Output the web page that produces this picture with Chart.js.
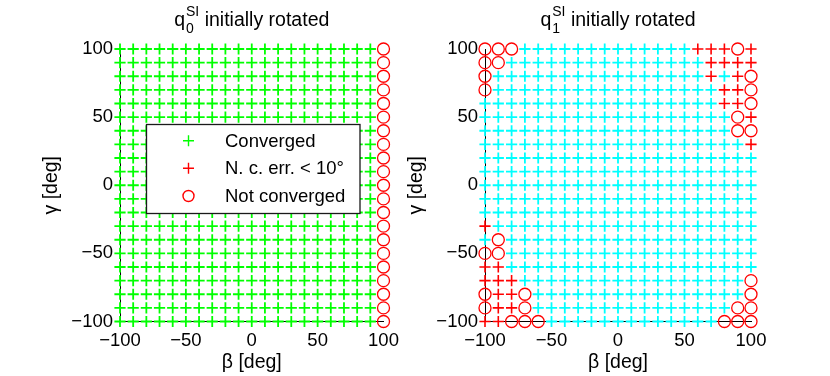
<!DOCTYPE html>
<html>
<head>
<meta charset="utf-8">
<script src="https://cdn.jsdelivr.net/npm/chart.js@4/dist/chart.umd.min.js"></script>
<style>
  html, body { margin: 0; padding: 0; background: #fff; }
  #wrap { position: relative; width: 830px; height: 376px; }
  #wrap canvas { position: absolute; left: 0; top: 0; }
</style>
</head>
<body>
<div id="wrap">
  <canvas id="left" width="830" height="376"></canvas>
  <canvas id="right" width="830" height="376"></canvas>
</div>
<script>
const betaValues = [-100, -90, -80, -70, -60, -50, -40, -30, -20, -10, 0, 10, 20, 30, 40, 50, 60, 70, 80, 90, 100];
const gammaValues = [100, 90, 80, 70, 60, 50, 40, 30, 20, 10, 0, -10, -20, -30, -40, -50, -60, -70, -80, -90, -100];
const tickValues = [-100, -50, 0, 50, 100];
const seriesLabels = ['Converged', 'N. c. err. < 10°', 'Not converged'];

// one string per gamma row (100 .. -100), one char per beta column (-100 .. 100)
// C = converged, E = not converged but err < 10°, N = not converged
const leftStatus = [
  'CCCCCCCCCCCCCCCCCCCCN',
  'CCCCCCCCCCCCCCCCCCCCN',
  'CCCCCCCCCCCCCCCCCCCCN',
  'CCCCCCCCCCCCCCCCCCCCN',
  'CCCCCCCCCCCCCCCCCCCCN',
  'CCCCCCCCCCCCCCCCCCCCN',
  'CCCCCCCCCCCCCCCCCCCCN',
  'CCCCCCCCCCCCCCCCCCCCN',
  'CCCCCCCCCCCCCCCCCCCCN',
  'CCCCCCCCCCCCCCCCCCCCN',
  'CCCCCCCCCCCCCCCCCCCCN',
  'CCCCCCCCCCCCCCCCCCCCN',
  'CCCCCCCCCCCCCCCCCCCCN',
  'CCCCCCCCCCCCCCCCCCCCN',
  'CCCCCCCCCCCCCCCCCCCCN',
  'CCCCCCCCCCCCCCCCCCCCN',
  'CCCCCCCCCCCCCCCCCCCCN',
  'CCCCCCCCCCCCCCCCCCCCN',
  'CCCCCCCCCCCCCCCCCCCCN',
  'CCCCCCCCCCCCCCCCCCCCN',
  'CCCCCCCCCCCCCCCCCCCCN'
];
const rightStatus = [
  'NNNCCCCCCCCCCCCCEEENE',
  'NNCCCCCCCCCCCCCCCEEEE',
  'NCCCCCCCCCCCCCCCCECEN',
  'NCCCCCCCCCCCCCCCCCEEN',
  'CCCCCCCCCCCCCCCCCCEEN',
  'CCCCCCCCCCCCCCCCCCCNE',
  'CCCCCCCCCCCCCCCCCCCNN',
  'CCCCCCCCCCCCCCCCCCCCE',
  'CCCCCCCCCCCCCCCCCCCCC',
  'CCCCCCCCCCCCCCCCCCCCC',
  'CCCCCCCCCCCCCCCCCCCCC',
  'CCCCCCCCCCCCCCCCCCCCC',
  'CCCCCCCCCCCCCCCCCCCCC',
  'ECCCCCCCCCCCCCCCCCCCC',
  'CNCCCCCCCCCCCCCCCCCCC',
  'NNCCCCCCCCCCCCCCCCCCC',
  'EECCCCCCCCCCCCCCCCCCC',
  'EEECCCCCCCCCCCCCCCCCN',
  'NEENCCCCCCCCCCCCCCCCN',
  'NEENCCCCCCCCCCCCCCCNN',
  'EENNNCCCCCCCCCCCCCNNN'
];

const FONT = '"Liberation Sans", Arial, Helvetica, sans-serif';
const RED = '#ff0000';

function pointsFor(status, code) {
  const pts = [];
  status.forEach((row, r) => {
    for (let c = 0; c < row.length; c++) {
      if (row[c] === code) pts.push({ x: betaValues[c], y: gammaValues[r] });
    }
  });
  return pts;
}

function crossAt(ctx, x, y, r) {
  ctx.beginPath();
  ctx.moveTo(x - r, y); ctx.lineTo(x + r, y);
  ctx.moveTo(x, y - r); ctx.lineTo(x, y + r);
  ctx.stroke();
}

const titlePlugin = {
  id: 'octTitle',
  afterDraw(chart, args, opts) {
    const { ctx, chartArea } = chart;
    const cx = (chartArea.left + chartArea.right) / 2;
    ctx.save();
    ctx.fillStyle = '#000';
    ctx.textBaseline = 'alphabetic';
    ctx.textAlign = 'left';
    ctx.font = '19.5px ' + FONT;
    const wq = ctx.measureText('q').width;
    const rest = ' initially rotated';
    const wr = ctx.measureText(rest).width;
    ctx.font = '14px ' + FONT;
    const ws = Math.max(ctx.measureText('SI').width, ctx.measureText(opts.sub).width);
    const total = wq + 1 + ws + wr;
    let x = cx - total / 2;
    ctx.font = '19.5px ' + FONT;
    ctx.fillText('q', x, 26);
    x += wq + 1;
    ctx.font = '14px ' + FONT;
    ctx.fillText('SI', x, 16);
    ctx.fillText(opts.sub, x, 33);
    x += ws;
    ctx.font = '19.5px ' + FONT;
    ctx.fillText(rest, x, 26);
    ctx.restore();
  }
};

const boxLegendPlugin = {
  id: 'boxLegend',
  afterDatasetsDraw(chart, args, opts) {
    if (!opts.show) return;
    const ctx = chart.ctx;
    ctx.save();
    ctx.fillStyle = '#fff';
    ctx.fillRect(146.5, 124.5, 213.5, 89);
    ctx.strokeStyle = '#1a1a1a';
    ctx.lineWidth = 1.3;
    ctx.strokeRect(146.5, 124.5, 213.5, 89);
    const rows = [140.7, 168.3, 196];
    chart.data.datasets.forEach((ds, i) => {
      const y = rows[i];
      ctx.strokeStyle = ds.borderColor;
      ctx.lineWidth = 1.4;
      if (ds.pointStyle === 'circle') {
        ctx.beginPath();
        ctx.arc(188.5, y, 5.5, 0, Math.PI * 2);
        ctx.stroke();
      } else {
        crossAt(ctx, 188.5, y, 5.5);
      }
      ctx.fillStyle = '#000';
      ctx.font = '18.5px ' + FONT;
      ctx.textBaseline = 'middle';
      ctx.fillText(ds.label, 225, y + 1);
    });
    ctx.restore();
  }
};

function axis(titleText, isY, fitSize, titlePad) {
  return {
    type: 'linear',
    min: -100,
    max: 100,
    afterBuildTicks(scale) { scale.ticks = tickValues.map(v => ({ value: v })); },
    afterFit(scale) { if (isY) scale.width = fitSize; else scale.height = fitSize; },
    grid: { display: false, drawTicks: false },
    border: { display: true, color: '#000', width: 1 },
    ticks: {
      color: '#000',
      font: { family: FONT, size: 18.5 },
      padding: isY ? 7 : 8,
      callback: v => String(v).replace('-', '\u2212')
    },
    title: {
      display: true,
      text: titleText,
      color: '#000',
      font: { family: FONT, size: 19.5 },
      padding: isY ? { top: titlePad, bottom: 0 } : { top: 0, bottom: titlePad }
    }
  };
}

function makeChart(id, status, convColor, sub, pad, yWidth, showLegend) {
  new Chart(document.getElementById(id), {
    type: 'scatter',
    data: {
      datasets: [
        { label: seriesLabels[0], data: pointsFor(status, 'C'), pointStyle: 'cross',
          borderColor: convColor, backgroundColor: convColor, pointRadius: 5.6, pointBorderWidth: 1.8, clip: false },
        { label: seriesLabels[1], data: pointsFor(status, 'E'), pointStyle: 'cross',
          borderColor: RED, backgroundColor: RED, pointRadius: 5.6, pointBorderWidth: 1.6, clip: false },
        { label: seriesLabels[2], data: pointsFor(status, 'N'), pointStyle: 'circle',
          borderColor: RED, backgroundColor: 'rgba(0,0,0,0)', pointRadius: 6, pointBorderWidth: 1.3, clip: false }
      ]
    },
    options: {
      responsive: false,
      animation: false,
      events: [],
      layout: { padding: pad },
      scales: {
        x: axis('\u03b2 [deg]', false, 54.5, 1.3),
        y: axis('\u03b3 [deg]', true, yWidth, showLegend ? 40.3 : 5)
      },
      plugins: {
        legend: { display: false },
        tooltip: { enabled: false },
        octTitle: { sub },
        boxLegend: { show: showLegend }
      }
    },
    plugins: [titlePlugin, boxLegendPlugin]
  });
}

makeChart('left', leftStatus, '#00ff00', '0', { left: 0, top: 49, right: 446.5, bottom: 0 }, 120, true);
makeChart('right', rightStatus, '#00ffff', '1', { left: 400, top: 49, right: 79, bottom: 0 }, 85, false);
</script>
</body>
</html>
